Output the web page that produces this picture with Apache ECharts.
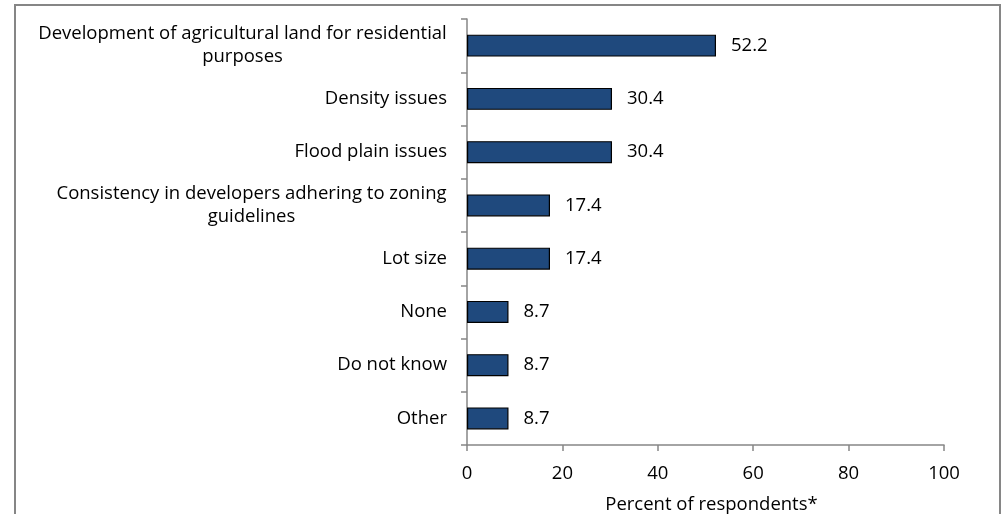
<!DOCTYPE html>
<html lang="en">
  <head>
    <meta charset="UTF-8" />
    <title>Zoning concerns</title>
    <script src="https://cdn.jsdelivr.net/npm/echarts@6.0.0/dist/echarts.min.js"></script>
    <style>
      body {
        margin: 0;
        padding: 0;
      }
      #chart {
        width: 1005px;
        height: 514px;
      }
    </style>
  </head>
  <body>
    <div id="chart"></div>

    <script>
      // categories, top to bottom
      var categories = [
        'Development of agricultural land for residential\npurposes',
        'Density issues',
        'Flood plain issues',
        'Consistency in developers adhering to zoning\nguidelines',
        'Lot size',
        'None',
        'Do not know',
        'Other'
      ];
      var values = [52.2, 30.4, 30.4, 17.4, 17.4, 8.7, 8.7, 8.7];
      var xTicks = [0, 20, 40, 60, 80, 100];

      var FONT = 'Open Sans';
      var FONT_SIZE = 18.5;

      // measure the longest line so wrapped labels can be centred line by line
      var ctx = document.createElement('canvas').getContext('2d');
      ctx.font = FONT_SIZE + 'px "' + FONT + '"';
      function lineWidth(s) {
        return Math.ceil(ctx.measureText(s).width);
      }

      var rich = {};
      var labelData = categories.map(function (name, i) {
        var lines = name.split('\n');
        if (lines.length === 1) {
          return name;
        }
        var w = Math.max.apply(null, lines.map(lineWidth));
        var key = 'c' + i;
        rich[key] = { width: w, align: 'center', fontFamily: FONT, fontSize: FONT_SIZE, color: '#000', lineHeight: 23 };
        return lines.map(function (l) { return '{' + key + '|' + l + '}'; }).join('\n');
      });

      var chart = echarts.init(document.getElementById('chart'));
      chart.setOption({
        animation: false,
        textStyle: { fontFamily: FONT },
        grid: {
          left: 467,
          right: 61,
          top: 19,
          bottom: 69,
          containLabel: false,
          outerBoundsMode: 'none'
        },
        graphic: [
          {
            type: 'rect',
            shape: { x: 15, y: 5, width: 985, height: 560 },
            style: { fill: 'none', stroke: '#868686', lineWidth: 2 },
            silent: true
          }
        ],
        xAxis: {
          type: 'value',
          min: xTicks[0],
          max: xTicks[xTicks.length - 1],
          interval: 20,
          name: 'Percent of respondents*',
          nameLocation: 'middle',
          nameGap: 50,
          nameTextStyle: { fontFamily: FONT, fontSize: FONT_SIZE, color: '#000', padding: [0, 0, 0, 12] },
          axisLine: { show: true, lineStyle: { color: '#868686', width: 1.5 } },
          axisTick: { show: true, length: 6, lineStyle: { color: '#868686', width: 1.5 } },
          axisLabel: { fontFamily: FONT, fontSize: FONT_SIZE, color: '#000', margin: 19 },
          splitLine: { show: false }
        },
        yAxis: {
          type: 'category',
          inverse: true,
          data: labelData,
          axisLine: { show: true, lineStyle: { color: '#868686', width: 1.5 } },
          axisTick: { show: true, length: 6, lineStyle: { color: '#868686', width: 1.5 } },
          axisLabel: {
            fontFamily: FONT,
            fontSize: FONT_SIZE,
            color: '#000',
            margin: 20,
            lineHeight: 23,
            rich: rich
          }
        },
        series: [
          {
            type: 'bar',
            data: values,
            barWidth: 22,
            itemStyle: {
              color: '#1F497D',
              borderColor: '#000',
              borderWidth: 1.2
            },
            label: {
              show: true,
              position: 'right',
              distance: 15,
              fontFamily: FONT,
              fontSize: FONT_SIZE,
              color: '#000',
              formatter: function (p) {
                return p.value.toFixed(1);
              }
            }
          }
        ]
      });
    </script>
  </body>
</html>
